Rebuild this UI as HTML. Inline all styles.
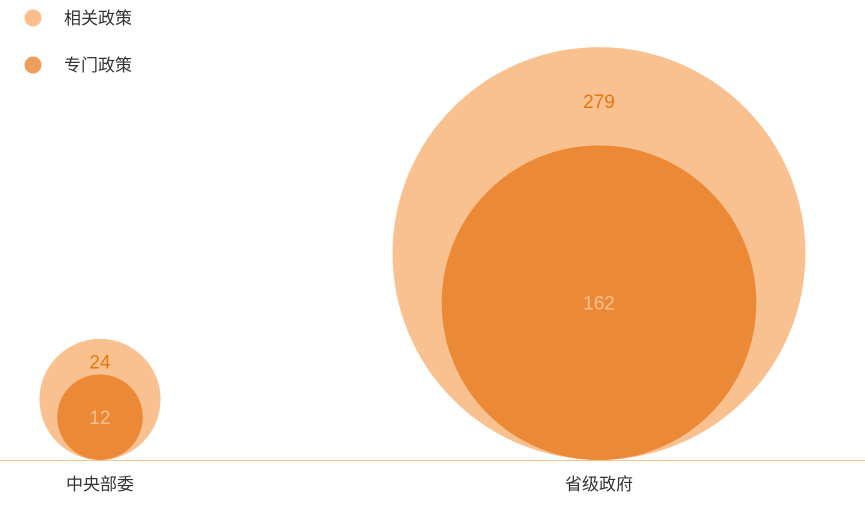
<!DOCTYPE html>
<html><head><meta charset="utf-8"><style>
html,body{margin:0;padding:0;background:#fff;}
svg{display:block;font-family:"Liberation Sans","Noto Sans CJK SC",sans-serif;}
</style></head><body>
<svg id="chart" width="865" height="506">
<g>
 <g>
  <circle cx="33" cy="18" r="8.5" fill="#FDBE8D"/>
  <text x="64" y="24" font-size="17" fill="#333">相关政策</text>
 </g>
 <g>
  <circle cx="33" cy="65" r="8.5" fill="#EE9D5A"/>
  <text x="64" y="71" font-size="17" fill="#333">专门政策</text>
 </g>
</g>
<line x1="0" y1="460.5" x2="865" y2="460.5" stroke="#F9C190" stroke-width="1"/>
<g id="marks"></g>
</svg>
<script>
const categories = ["中央部委", "省级政府"];
const relatedValues = [24, 279];
const specialValues = [12, 162];

const baseY = 460;
const centersX = [100, 599];
const k = 12.36;
function rScale(v){ return Math.sqrt(v) * k; }
const NS = "http://www.w3.org/2000/svg";
const g = document.getElementById('marks');
function mk(tag, attrs, parent){
  const e = document.createElementNS(NS, tag);
  for (const a in attrs) e.setAttribute(a, attrs[a]);
  parent.appendChild(e); return e;
}
categories.forEach((c, i) => {
  const cx = centersX[i];
  const ro = rScale(relatedValues[i]);
  const ri = rScale(specialValues[i]);
  const outer = mk('circle', {cx: cx, cy: baseY - ro, r: ro, fill: '#F9C190'}, g);
  
  
  const inner = mk('circle', {cx: cx, cy: baseY - ri, r: ri, fill: '#EC8936'}, g);
  
  
  const topO = baseY - 2 * ro, topI = baseY - 2 * ri;
  const lo = mk('text', {x: cx, y: (topO + topI) / 2 + 12, 'text-anchor': 'middle', 'font-size': 19, fill: '#E8760F'}, g);
  lo.textContent = relatedValues[i];
  
  
  const li = mk('text', {x: cx, y: baseY - ri + 7, 'text-anchor': 'middle', 'font-size': 19, fill: '#F9C190'}, g);
  li.textContent = specialValues[i];
  
  
  const cl = mk('text', {x: cx, y: 490, 'text-anchor': 'middle', 'font-size': 17, fill: '#333'}, g);
  cl.textContent = c;
  
  
});
</script>
</body></html>
